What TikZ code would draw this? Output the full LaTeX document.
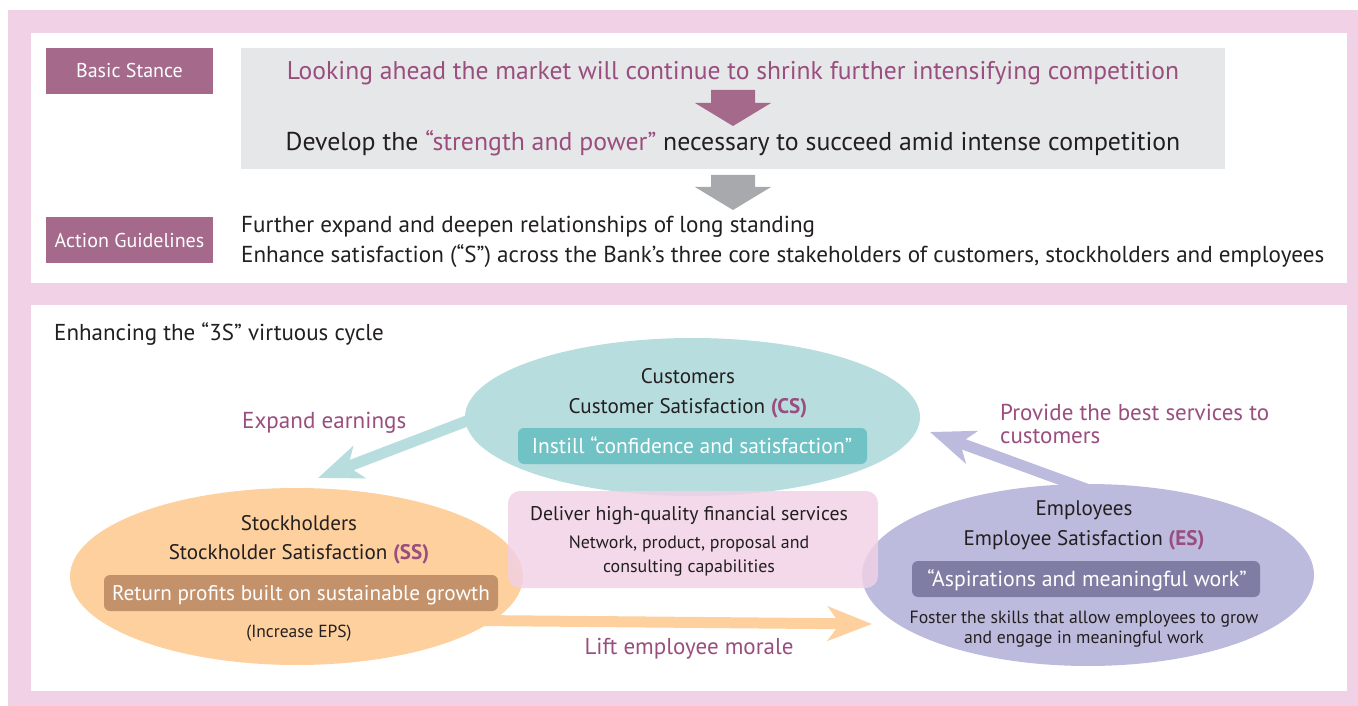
\documentclass[tikz,border=0pt]{standalone}
\usepackage{fontspec}
\setmainfont{PT Sans}
\usetikzlibrary{shapes.geometric,arrows.meta,calc}

\definecolor{bgpink}{HTML}{F1D1E5}
\definecolor{plum}{HTML}{A56A8B}
\definecolor{plumtext}{HTML}{9A4E7F}
\definecolor{ink}{HTML}{231F20}
\definecolor{panelgray}{HTML}{E6E7E8}
\definecolor{arrowgray}{HTML}{A7A9AC}
\definecolor{csfill}{HTML}{B7DDDE}
\definecolor{csbox}{HTML}{70C2C5}
\definecolor{ssfill}{HTML}{FDD09E}
\definecolor{ssbox}{HTML}{C4926A}
\definecolor{esfill}{HTML}{BCBBDD}
\definecolor{esbox}{HTML}{7F7DA3}

\newcommand\setfs[1]{\fontsize{#1}{#1}\selectfont}

\tikzset{
  labelbox/.style={fill=plum, text=white, minimum width=167pt, minimum height=46pt,
    inner sep=0pt, font=\setfs{20}},
  txt/.style={inner sep=0pt, text=ink, anchor=base},
  bubble/.style={ellipse, inner sep=0pt},
  tagbox/.style={rounded corners=6pt},
  flow/.style={line width=11pt, -{Stealth[length=44pt,width=34pt,inset=12pt]}},
}

\begin{document}
\begin{tikzpicture}[x=1pt,y=-1pt]
\useasboundingbox (0,0) rectangle (1358,706);

% frame and panels
\fill[bgpink] (8,10) rectangle (1358,706);
\fill[white] (31,33) rectangle (1347,283);
\fill[white] (31,305) rectangle (1347,691);

% ---------- upper panel ----------
\node[labelbox] (stance) at (129.5,71) {Basic Stance};
\node[labelbox] (guide) at (129.5,240) {Action Guidelines};
\fill[panelgray] (241,48) rectangle (1225,169);

\node[txt, font=\setfs{25.6}, text=plumtext] (outlook) at (733,80)
  {Looking ahead the market will continue to shrink further intensifying competition};
\node[txt, font=\setfs{25.8}] (develop) at (733,151)
  {Develop the {\color{plumtext}“strength and power”} necessary to succeed amid intense competition};

% block arrows
\fill[plum] (711,90) -- (755,90) -- (755,103) -- (771,103) -- (733,126)
  -- (695,103) -- (711,103) -- cycle;
\fill[arrowgray] (711,175) -- (755,175) -- (755,187) -- (771,187) -- (733,210)
  -- (695,187) -- (711,187) -- cycle;

\node[txt, font=\setfs{23.1}, anchor=base west] (g1) at (241,233)
  {Further expand and deepen relationships of long standing};
\node[txt, font=\setfs{23.1}, anchor=base west] (g2) at (241,262)
  {Enhance satisfaction (“S”) across the Bank’s three core stakeholders of customers, stockholders and employees};

% ---------- lower panel ----------
\node[txt, font=\setfs{23}, anchor=base west] (cycle) at (54,340)
  {Enhancing the “3S” virtuous cycle};

\node[bubble, minimum width=455pt, minimum height=158pt] (cs) at (692.5,417) {};
\node[bubble, minimum width=453pt, minimum height=177pt] (ss) at (296.5,576.5) {};
\node[bubble, minimum width=452pt, minimum height=182pt] (es) at (1088,575) {};

\coordinate (eetip) at (318,478);
\coordinate (pbtip) at (930,432);
\coordinate (lmtip) at (872,624);

\draw[flow, draw=csfill, fill=csfill] ($(cs.west)+(15,-1)$) -- (eetip);
\draw[flow, draw=esfill, fill=esfill] ($(es.north)+(6,8)$) -- (pbtip);
\draw[flow, draw=ssfill, fill=ssfill] ($(ss.center)+(180,44)$) -- (lmtip);

\fill[csfill] (cs.center) ellipse [x radius=227.5, y radius=79];
\fill[ssfill] (ss.center) ellipse [x radius=226.5, y radius=88.5];
\fill[esfill] (es.center) ellipse [x radius=226, y radius=91];

\fill[csbox, tagbox] (518,428) rectangle (867,464);
\fill[ssbox, tagbox] (104,575) rectangle (498,611);
\fill[esbox, tagbox] (912,561) rectangle (1260,597);

\fill[bgpink, opacity=0.82, rounded corners=12pt] (508,491) rectangle (878,588);

% arrow captions
\node[txt, font=\setfs{23.1}, text=plumtext, anchor=base west] (ee) at (242,428) {Expand earnings};
\node[txt, font=\setfs{23}, text=plumtext, anchor=base west] (pb1) at (1000,420) {Provide the best services to};
\node[txt, font=\setfs{23}, text=plumtext, anchor=base west] (pb2) at (1000,443) {customers};
\node[txt, font=\setfs{23}, text=plumtext] (lm) at (689,654) {Lift employee morale};

% customers
\node[txt, font=\setfs{21.1}] (cs1) at (688,383) {Customers};
\node[txt, font=\setfs{21.1}] (cs2) at (688,413) {Customer Satisfaction {\color{plumtext}\textbf{(CS)}}};
\node[txt, font=\setfs{21.5}, text=white] (cs3) at (692,453) {Instill “confidence and satisfaction”};

% stockholders
\node[txt, font=\setfs{21.1}] (ss1) at (299,530) {Stockholders};
\node[txt, font=\setfs{21.1}] (ss2) at (299,559) {Stockholder Satisfaction {\color{plumtext}\textbf{(SS)}}};
\node[txt, font=\setfs{21.2}, text=white] (ss3) at (301,600) {Return profits built on sustainable growth};
\node[txt, font=\setfs{17.5}] (ss4) at (299,637) {(Increase EPS)};

% employees
\node[txt, font=\setfs{21.1}] (es1) at (1084,515) {Employees};
\node[txt, font=\setfs{21.1}] (es2) at (1084,545) {Employee Satisfaction {\color{plumtext}\textbf{(ES)}}};
\node[txt, font=\setfs{21.8}, text=white] (es3) at (1087,586) {“Aspirations and meaningful work”};
\node[txt, font=\setfs{17.7}] (es4) at (1084,623) {Foster the skills that allow employees to grow};
\node[txt, font=\setfs{17.7}] (es5) at (1084,643) {and engage in meaningful work};

% centre box
\node[txt, font=\setfs{19.8}] (hq1) at (689,520) {Deliver high-quality financial services};
\node[txt, font=\setfs{17.9}] (hq2) at (689,548) {Network, product, proposal and};
\node[txt, font=\setfs{17.9}] (hq3) at (689,572) {consulting capabilities};
\end{tikzpicture}
\end{document}
